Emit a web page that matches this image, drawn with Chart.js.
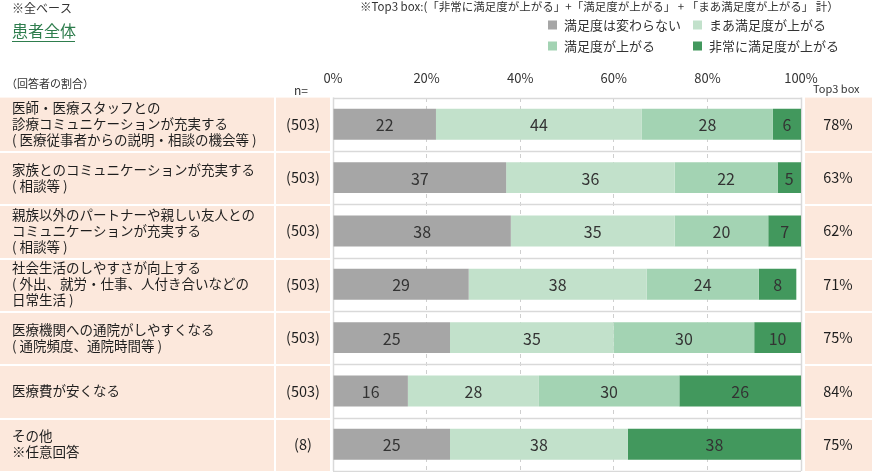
<!DOCTYPE html>
<html>
<head>
<meta charset="utf-8">
<script src="https://cdn.jsdelivr.net/npm/chart.js@4"></script>
<style>
  body { margin: 0; background: #fff; }
  #wrap { position: relative; width: 872px; height: 472px; }
</style>
</head>
<body>
<div id="wrap"><canvas id="chart" width="872" height="472"></canvas></div>
<script>
const FONT = '"Noto Sans CJK JP", "Noto Sans", sans-serif';

// data
const categories = [
  ['医師・医療スタッフとの', '診療コミュニケーションが充実する', '( 医療従事者からの説明・相談の機会等 )'],
  ['家族とのコミュニケーションが充実する', '( 相談等 )'],
  ['親族以外のパートナーや親しい友人との', 'コミュニケーションが充実する', '( 相談等 )'],
  ['社会生活のしやすさが向上する', '( 外出、就労・仕事、人付き合いなどの', '日常生活 )'],
  ['医療機関への通院がしやすくなる', '( 通院頻度、通院時間等 )'],
  ['医療費が安くなる'],
  ['その他', '※任意回答']
];
const nLabels = ['(503)', '(503)', '(503)', '(503)', '(503)', '(503)', '(8)'];
const seriesNames = ['満足度は変わらない', 'まあ満足度が上がる', '満足度が上がる', '非常に満足度が上がる'];
const unchanged = [22, 37, 38, 29, 25, 16, 25];
const somewhat = [44, 36, 35, 38, 35, 28, 38];
const raised = [28, 22, 20, 24, 30, 30, 0];
const greatly = [6, 5, 7, 8, 10, 26, 38];
const top3 = [78, 63, 62, 71, 75, 84, 75];
const xTicks = [0, 20, 40, 60, 80, 100];

const colors = ['#a6a6a6', '#c2e1cb', '#a3d3b3', '#42985d'];
const PEACH = '#fce8dc';

// peach panels, row separators and header text
const framePlugin = {
  id: 'frame',
  beforeDatasetsDraw(chart) {
    const { ctx, chartArea } = chart;
    const y = chart.scales.y;
    const rowH = (chartArea.bottom - chartArea.top) / categories.length;
    ctx.save();
    // left / n / right panels
    ctx.fillStyle = PEACH;
    ctx.fillRect(0, chartArea.top, 274, chartArea.bottom - chartArea.top);
    ctx.fillRect(276, chartArea.top, 54, chartArea.bottom - chartArea.top);
    ctx.fillRect(805, chartArea.top, 67, chartArea.bottom - chartArea.top);
    ctx.strokeStyle = '#ffffff';
    ctx.lineWidth = 2;
    for (let i = 1; i < categories.length; i++) {
      const yy = Math.round(chartArea.top + rowH * i) + 1;
      ctx.beginPath();
      ctx.moveTo(0, yy); ctx.lineTo(330, yy);
      ctx.moveTo(805, yy); ctx.lineTo(872, yy);
      ctx.stroke();
    }
    // row separators in plot
    ctx.strokeStyle = '#d9d9d9';
    ctx.lineWidth = 1.5;
    for (let i = 0; i <= categories.length; i++) {
      const yy = Math.round(chartArea.top + rowH * i) + 0.5;
      ctx.beginPath();
      ctx.moveTo(chartArea.left, yy); ctx.lineTo(chartArea.right, yy);
      ctx.stroke();
    }
    ctx.beginPath();
    ctx.moveTo(chartArea.left + 0.5, chartArea.top); ctx.lineTo(chartArea.left + 0.5, chartArea.bottom);
    ctx.moveTo(chartArea.right + 0.5, chartArea.top); ctx.lineTo(chartArea.right + 0.5, chartArea.bottom);
    ctx.stroke();

    // row texts
    ctx.fillStyle = '#1e1e1e';
    ctx.textBaseline = 'middle';
    categories.forEach((lines, i) => {
      const cy = y.getPixelForValue(i);
      ctx.font = '13.5px ' + FONT;
      ctx.textAlign = 'left';
      lines.forEach((ln, j) => {
        ctx.fillText(ln, 12, cy + (j - (lines.length - 1) / 2) * 16);
      });
      ctx.textAlign = 'center';
      ctx.font = '14.5px ' + FONT;
      ctx.fillText(nLabels[i], 303, cy);
      ctx.fillText(top3[i] + '%', 838, cy);
    });
    ctx.restore();
  },
  afterDraw(chart) {
    const { ctx } = chart;
    ctx.save();
    ctx.textBaseline = 'middle';
    ctx.fillStyle = '#333';
    ctx.textAlign = 'left';
    ctx.font = '12px ' + FONT;
    ctx.fillText('※全ベース', 12, 8);
    ctx.font = '11.5px ' + FONT;
    ctx.fillText('※Top3 box:(「非常に満足度が上がる」+「満足度が上がる」 + 「まあ満足度が上がる」 計）', 360, 7);
    ctx.font = '11px ' + FONT;
    ctx.fillText('（回答者の割合）', 6, 84);
    ctx.font = '12px ' + FONT;
    ctx.fillText('n=', 294, 90);
    ctx.font = '11px ' + FONT;
    ctx.fillText('Top3 box', 813, 89);
    // heading
    ctx.fillStyle = '#2e7d4d';
    ctx.font = '16px ' + FONT;
    ctx.fillText('患者全体', 12, 31);
    ctx.fillRect(12, 41, 63, 1);
    // legend, two columns
    ctx.font = '13px ' + FONT;
    chart.data.datasets.forEach((ds, i) => {
      const lx = i % 2 === 0 ? 548 : 693;
      const ly = i < 2 ? 25 : 46;
      ctx.fillStyle = ds.backgroundColor;
      ctx.fillRect(lx, ly - 4.5, 9, 9);
      ctx.fillStyle = '#333';
      ctx.fillText(ds.label, lx + 16, ly);
    });
    ctx.restore();
  }
};

// value labels inside the segments
const valuePlugin = {
  id: 'values',
  afterDatasetsDraw(chart) {
    const { ctx } = chart;
    ctx.save();
    ctx.font = '16px ' + FONT;
    ctx.fillStyle = '#333';
    ctx.textAlign = 'center';
    ctx.textBaseline = 'middle';
    chart.data.datasets.forEach((ds, di) => {
      chart.getDatasetMeta(di).data.forEach((bar, i) => {
        const v = ds.data[i];
        if (!v) return;
        const right = Math.min(bar.x, chart.chartArea.right);
        ctx.fillText(String(v), (right + bar.base) / 2, bar.y + 1);
      });
    });
    ctx.restore();
  }
};

new Chart(document.getElementById('chart'), {
  type: 'bar',
  data: {
    labels: categories.map(c => c.join('')),
    datasets: [unchanged, somewhat, raised, greatly].map((d, i) => ({
      label: seriesNames[i],
      data: d,
      backgroundColor: colors[i],
      borderWidth: 0,
      barPercentage: 0.58,
      categoryPercentage: 1
    }))
  },
  options: {
    indexAxis: 'y',
    responsive: false,
    animation: false,
    layout: { padding: { left: 333, right: 71, top: 58, bottom: 1 } },
    plugins: { legend: { display: false }, tooltip: { enabled: false } },
    scales: {
      x: {
        position: 'top',
        stacked: true,
        min: 0,
        max: 100,
        afterBuildTicks(scale) { scale.ticks = xTicks.map(v => ({ value: v })); },
        ticks: { callback: v => v + '%', color: '#333', font: { size: 13, family: FONT }, padding: 12, maxRotation: 0 },
        grid: { color: '#cfcfcf', drawTicks: false },
        border: { display: false, dash: [4, 4] }
      },
      y: {
        stacked: true,
        display: false
      }
    }
  },
  plugins: [framePlugin, valuePlugin]
});
</script>
</body>
</html>
